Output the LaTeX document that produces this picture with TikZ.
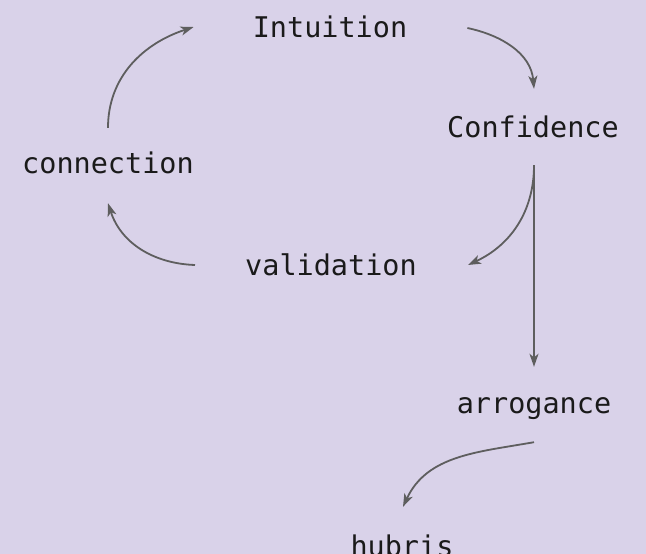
\documentclass[tikz,border=0pt]{standalone}
\usepackage{fontspec}
\setmonofont{DejaVu Sans Mono}
\usetikzlibrary{arrows.meta,calc}
\definecolor{bg}{HTML}{D9D2E9}
\definecolor{ink}{HTML}{1A1A1A}
\definecolor{edge}{HTML}{5E5E5E}
\begin{document}
\begin{tikzpicture}[x=1pt,y=1pt,
  lbl/.style={font=\fontsize{28.5}{34}\selectfont\ttfamily, text=ink, inner sep=0pt, anchor=base, text height=21pt, text depth=7pt},
  link/.style={draw=edge, line width=1.8pt, -{Stealth[length=13pt,width=9pt,inset=3.5pt]}}]
\useasboundingbox (0,0) rectangle (646,-554);
\fill[bg] (0,0) rectangle (646,-554);
\node[lbl] (int) at (330,-37) {Intuition};
\node[lbl] (conf) at (533,-137) {Confidence};
\node[lbl] (conn) at (108,-173) {connection};
\node[lbl] (val) at (331,-275) {validation};
\node[lbl] (arr) at (534,-413) {arrogance};
\node[lbl] (hub) at (402,-556) {hubris};
\coordinate (cs) at ($(conf.south)+(1,-21)$);
\draw[link] ($(conn.north)+(0,24)$) to[out=90,in=198] ($(int.west)+(-59,3)$);
\draw[link] ($(int.east)+(60,2)$) to[out=-12,in=95] ($(conf.north)+(1,27)$);
\draw[link] (cs) to[out=-90,in=25] ($(val.east)+(51,3)$);
\draw[link] (cs) -- ($(arr.north)+(0,25)$);
\draw[link] ($(val.west)+(-50,3)$) to[out=178,in=-72] ($(conn.south)+(0,-23)$);
\draw[link] ($(arr.south)+(0,-22)$) to[out=190,in=65] ($(hub.north)+(1,28)$);
\end{tikzpicture}
\end{document}
